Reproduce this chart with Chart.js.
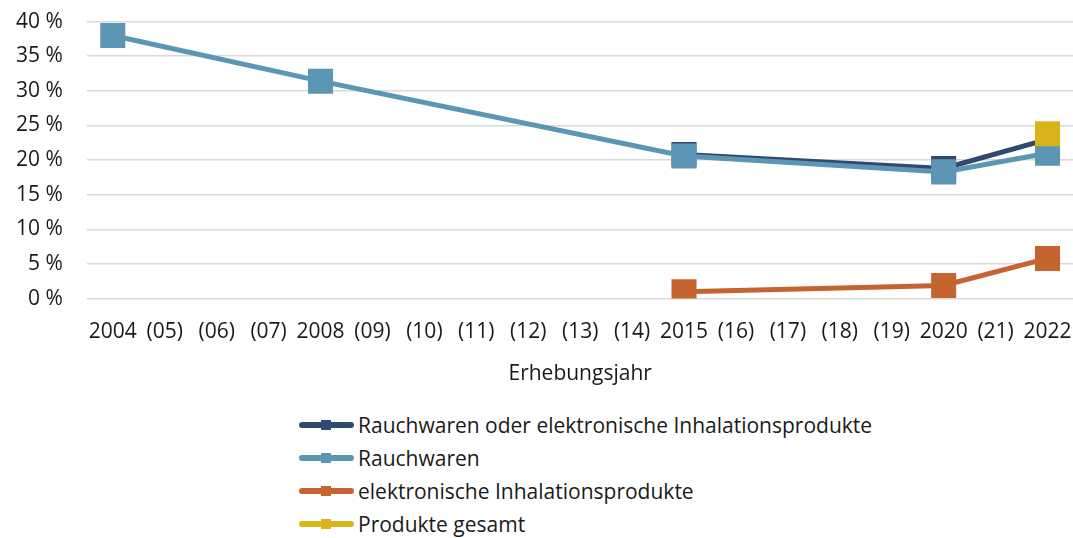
<!DOCTYPE html>
<html>
<head>
<meta charset="utf-8">
<script src="https://cdn.jsdelivr.net/npm/chart.js"></script>
<style>
  html, body { margin: 0; padding: 0; background: #fff; }
  body { position: relative; width: 1073px; height: 538px; overflow: hidden; font-family: "Open Sans", sans-serif; }
  #wrap { position: absolute; left: 0; top: -15px; width: 1093px; height: 402px; }
  #legend { position: absolute; left: 298px; top: 408px; }
  .item { height: 33px; display: flex; align-items: center; font-size: 21px; color: #1a1a1a; }
  .sym { position: relative; width: 57px; height: 20px; margin-right: 3px; }
  .sym .ln { position: absolute; left: 1px; right: 1px; top: 7px; height: 6px; border-radius: 3px; }
  .sym .sq { position: absolute; left: 23px; top: 5px; width: 10px; height: 10px; }
</style>
</head>
<body>
<div id="wrap"><canvas id="chart" width="1093" height="402"></canvas></div>
<div id="legend"></div>
<script>
// Erhebungsjahre (Klammern = keine Erhebung)
const years = ['2004', '(05)', '(06)', '(07)', '2008', '(09)', '(10)', '(11)', '(12)', '(13)', '(14)',
               '2015', '(16)', '(17)', '(18)', '(19)', '2020', '(21)', '2022'];

// Anteile in %
const rauchOderElektro = [null, null, null, null, null, null, null, null, null, null, null, 20.8, null, null, null, null, 18.8, null, 23.0];
const rauchwaren       = [38.0, null, null, null, 31.4, null, null, null, null, null, null, 20.6, null, null, null, null, 18.3, null, 21.0];
const elektronisch     = [null, null, null, null, null, null, null, null, null, null, null, 1.0, null, null, null, null, 1.9, null, 5.8];
const gesamt           = [null, null, null, null, null, null, null, null, null, null, null, null, null, null, null, null, null, null, 23.8];

const names = ['Rauchwaren oder elektronische Inhalationsprodukte', 'Rauchwaren',
               'elektronische Inhalationsprodukte', 'Produkte gesamt'];
const colors = ['#32496f', '#5b97b5', '#c56431', '#d8b41a'];
const series = [rauchOderElektro, rauchwaren, elektronisch, gesamt];
const drawOrder = [3, 1, 2, 0];

const font = { family: '"Open Sans", sans-serif', size: 21 };

const datasets = series.map((d, i) => ({
  label: names[i],
  data: d,
  borderColor: colors[i],
  backgroundColor: colors[i],
  borderWidth: 5,
  pointStyle: 'rect',
  pointRadius: 17.7,
  pointHoverRadius: 17.7,
  pointBorderWidth: 0,
  spanGaps: true,
  tension: 0,
  order: drawOrder[i]
}));

new Chart(document.getElementById('chart'), {
  type: 'line',
  data: { labels: years, datasets: datasets },
  options: {
    responsive: false,
    animation: false,
    layout: { padding: { left: -8, right: 0, top: 0, bottom: 0 } },
    plugins: { legend: { display: false }, tooltip: { enabled: false } },
    scales: {
      x: {
        offset: true,
        grid: { display: false, drawTicks: false },
        border: { display: false },
        ticks: { font: font, color: '#1a1a1a', autoSkip: false, maxRotation: 0, minRotation: 0, padding: 21 },
        title: { display: true, text: 'Erhebungsjahr', font: font, color: '#1a1a1a', padding: { top: -4, bottom: 0 } }
      },
      y: {
        min: 0,
        max: 40,
        grid: { color: '#d9d9d9', lineWidth: 1.5, drawTicks: false },
        border: { display: false },
        ticks: { stepSize: 5, font: font, color: '#1a1a1a', padding: 24, callback: v => v + ' %' }
      }
    }
  }
});

// Legende unten, untereinander
const legend = document.getElementById('legend');
names.forEach((n, i) => {
  const row = document.createElement('div');
  row.className = 'item';
  row.innerHTML = '<div class="sym"><div class="ln" style="background:' + colors[i] + '"></div>' +
    '<div class="sq" style="background:' + colors[i] + '"></div></div><span>' + n + '</span>';
  legend.appendChild(row);
});
</script>
</body>
</html>
